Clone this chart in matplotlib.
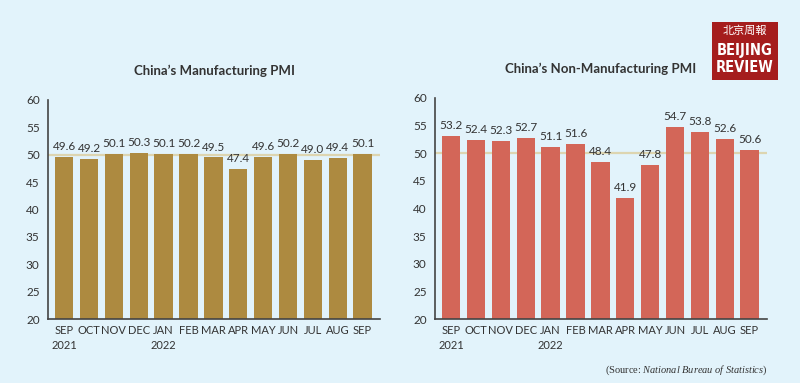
import matplotlib
matplotlib.use('Agg')
import matplotlib.pyplot as plt
from matplotlib.patches import Rectangle

months = ['SEP\n2021', 'OCT', 'NOV', 'DEC', 'JAN\n2022', 'FEB', 'MAR', 'APR', 'MAY', 'JUN', 'JUL', 'AUG', 'SEP']
manufacturing = [49.6, 49.2, 50.1, 50.3, 50.1, 50.2, 49.5, 47.4, 49.6, 50.2, 49.0, 49.4, 50.1]
non_manufacturing = [53.2, 52.4, 52.3, 52.7, 51.1, 51.6, 48.4, 41.9, 47.8, 54.7, 53.8, 52.6, 50.6]

bg = '#e2f3fb'
text_col = '#333333'
plt.rcParams['font.family'] = ['Lato', 'DejaVu Sans']
plt.rcParams['mathtext.fontset'] = 'custom'
plt.rcParams['mathtext.rm'] = 'Liberation Serif'
plt.rcParams['mathtext.it'] = 'Liberation Serif:italic'

fig = plt.figure(figsize=(8, 3.83), dpi=100, facecolor=bg)

W, H = 800, 383
def add_ax(x0, x1, ytop, ybot):
    return fig.add_axes([x0 / W, 1 - ybot / H, (x1 - x0) / W, (ybot - ytop) / H])

panels = [
    (add_ax(48, 380, 100, 319), manufacturing, '#ad8a40', "China\u2019s Manufacturing PMI"),
    (add_ax(435, 767, 98, 319), non_manufacturing, '#d36658', "China\u2019s Non-Manufacturing PMI"),
]

for ax, vals, col, title in panels:
    ax.set_facecolor(bg)
    x = range(len(vals))
    ax.axhline(50, color='#ddd5b0', lw=1.6, zorder=1)
    ax.bar(x, [v - 20 for v in vals], bottom=20, width=0.74, color=col, zorder=2)
    for i, v in enumerate(vals):
        ax.text(i, v + 0.9, f'{v:.1f}', ha='center', va='bottom', fontsize=8.5, color=text_col)
    ax.set_ylim(20, 60)
    ax.set_xlim(-0.65, 12.7)
    ax.set_yticks([20, 25, 30, 35, 40, 45, 50, 55, 60])
    ax.set_xticks(list(x))
    ax.set_xticklabels(months, fontsize=8, color=text_col, linespacing=1.5)
    ax.tick_params(axis='y', labelsize=8.5, colors=text_col, length=0, pad=6)
    ax.tick_params(axis='x', length=0, pad=4)
    for s in ['top', 'right']:
        ax.spines[s].set_visible(False)
    for s in ['left', 'bottom']:
        ax.spines[s].set_color('#444444')
        ax.spines[s].set_linewidth(1.2)
    ax.set_title(title, fontsize=9.5, fontweight='bold', color=text_col, pad=18)

# source note
fig.text(768 / W, 1 - 370 / H, r'(Source: $\mathit{National\ Bureau\ of\ Statistics}$)',
         ha='right', va='center', fontsize=7.5, color=text_col, family='Liberation Serif')

# logo
fig.patches.append(Rectangle((712 / W, 1 - 80 / H), 66 / W, 58 / H, transform=fig.transFigure,
                             facecolor='#a51d1d', edgecolor='none'))
fig.text(745 / W, 1 - 31 / H, '北京周報', ha='center', va='center', fontsize=8, color='white',
         family=['Noto Sans CJK SC', 'DejaVu Sans'], style='italic')
fig.text(745 / W, 1 - 50 / H, 'BEIJING', ha='center', va='center', fontsize=10.5, color='white',
         family='DejaVu Sans', fontweight='bold', fontstretch='condensed')
fig.text(745 / W, 1 - 68 / H, 'REVIEW', ha='center', va='center', fontsize=10.5, color='white',
         family='DejaVu Sans', fontweight='bold', fontstretch='condensed')

fig.savefig('out.png', dpi=100, facecolor=bg)
